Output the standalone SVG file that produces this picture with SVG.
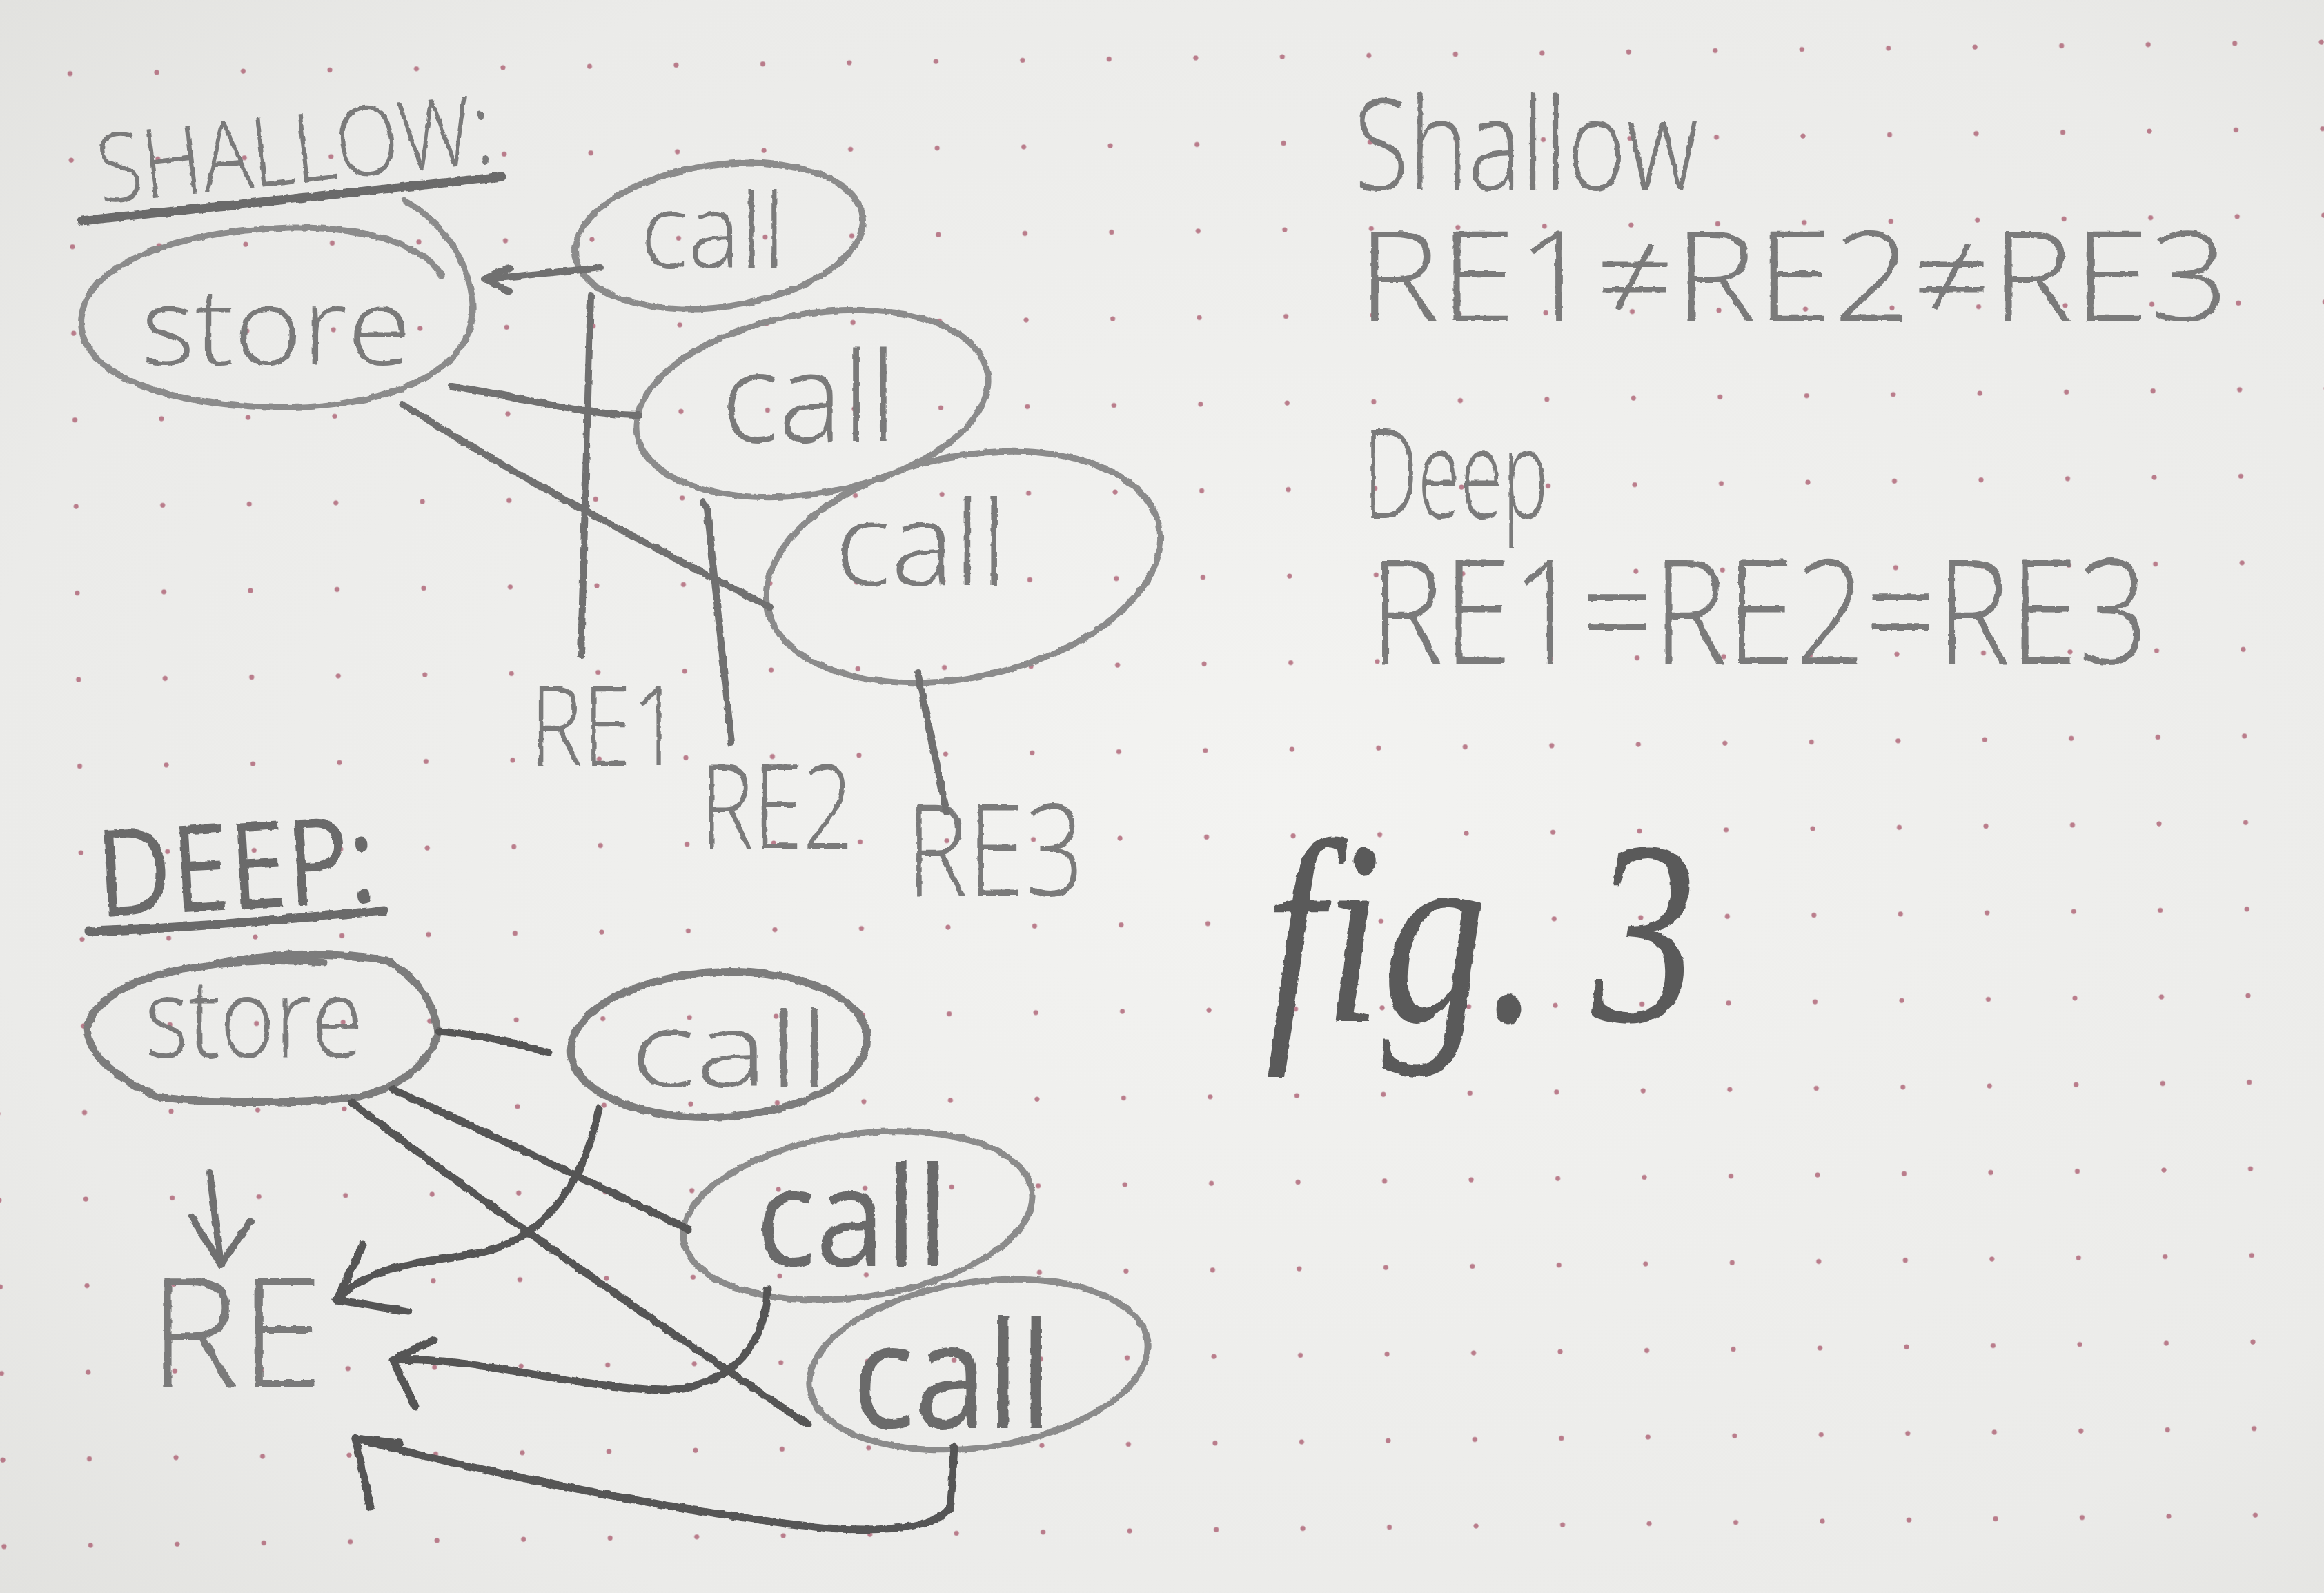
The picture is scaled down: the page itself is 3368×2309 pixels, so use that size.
<svg xmlns="http://www.w3.org/2000/svg" width="3368" height="2309" viewBox="0 0 3368 2309">
<defs>
  <radialGradient id="paper" cx="0.55" cy="0.5" r="0.8">
    <stop offset="0" stop-color="#f3f3f1"/>
    <stop offset="0.7" stop-color="#ebebe9"/>
    <stop offset="1" stop-color="#dfdfdc"/>
  </radialGradient>
  <pattern id="dots" x="96" y="104" width="125.5" height="125.5" patternUnits="userSpaceOnUse" patternTransform="rotate(-0.8)">
    <circle cx="4" cy="4" r="3.6" fill="#a8566a" fill-opacity="0.75"/>
  </pattern>
  <filter id="pencil" x="-5%" y="-5%" width="110%" height="110%">
    <feTurbulence type="fractalNoise" baseFrequency="0.08" numOctaves="2" seed="3" result="n"/>
    <feDisplacementMap in="SourceGraphic" in2="n" scale="5" xChannelSelector="R" yChannelSelector="G"/>
  </filter>
  <style>
    .oval{fill:none;stroke:#8b8b8b;stroke-width:9;stroke-linecap:round;stroke-linejoin:round}
    .ovald{fill:none;stroke:#7c7c7c;stroke-width:11;stroke-linecap:round;stroke-linejoin:round}
    .ln{fill:none;stroke:#707070;stroke-width:10;stroke-linecap:round;stroke-linejoin:round}
    .lnd{fill:none;stroke:#555;stroke-width:11;stroke-linecap:round;stroke-linejoin:round}
    .ul{fill:none;stroke:#6a6a6a;stroke-width:13;stroke-linecap:round}
    .hw{font-family:"Open Sans","Liberation Sans",sans-serif;font-weight:300;fill:#7a7a7a}
    .hwd{font-family:"Open Sans","Liberation Sans",sans-serif;font-weight:400;fill:#6a6a6a}
    .fig{font-family:"Liberation Serif",serif;font-style:italic;fill:#5a5a5a}
  </style>
</defs>

<rect width="3368" height="2309" fill="url(#paper)"/>
<rect width="3368" height="2309" fill="url(#dots)"/>

<g filter="url(#pencil)">
<!-- Titles -->
<g id="title-shallow">
  <text class="hw" x="140" y="265" font-size="140" textLength="575" lengthAdjust="spacingAndGlyphs" transform="rotate(-6 430 225)">SHALLOW:</text>
  <path class="ul" d="M118,320 C300,302 520,278 728,256"/>
</g>
<g id="title-deep">
  <text class="hwd" x="140" y="1318" font-size="175" textLength="405" lengthAdjust="spacingAndGlyphs" transform="rotate(-3 340 1260)">DEEP:</text>
  <path class="ul" d="M129,1350 C260,1346 420,1332 556,1320"/>
</g>

<!-- Shallow nodes -->
<g id="shallow-store">
  <path class="oval" d="M585,290 C660,330 700,420 680,480 C650,560 520,595 390,590 C230,585 110,540 118,460 C125,380 260,335 420,330 C540,328 620,360 640,400"/>
  <text class="hw" x="204" y="528" font-size="155" textLength="392" lengthAdjust="spacingAndGlyphs">store</text>
</g>
<g id="shallow-call1">
  <ellipse class="oval" cx="1042" cy="342" rx="210" ry="103" transform="rotate(-8 1042 342)"/>
  <text class="hw" x="928" y="388" font-size="150" textLength="210" lengthAdjust="spacingAndGlyphs">call</text>
</g>
<g id="shallow-call2">
  <ellipse class="oval" cx="1177" cy="585" rx="258" ry="130" transform="rotate(-10 1177 585)"/>
  <text class="hw" x="1045" y="640" font-size="180" textLength="255" lengthAdjust="spacingAndGlyphs">call</text>
</g>
<g id="shallow-call3">
  <ellipse class="oval" cx="1396" cy="822" rx="290" ry="160" transform="rotate(-12 1396 822)"/>
  <text class="hw" x="1210" y="848" font-size="170" textLength="250" lengthAdjust="spacingAndGlyphs">call</text>
</g>
<g id="shallow-re1"><text class="hw" x="768" y="1110" font-size="160" textLength="220" lengthAdjust="spacingAndGlyphs">RE1</text></g>
<g id="shallow-re2"><text class="hw" x="1015" y="1230" font-size="170" textLength="222" lengthAdjust="spacingAndGlyphs">RE2</text></g>
<g id="shallow-re3"><text class="hw" x="1313" y="1298" font-size="185" textLength="258" lengthAdjust="spacingAndGlyphs">RE3</text></g>

<!-- Deep nodes -->
<g id="deep-store">
  <path class="ovald" d="M300,1400 C380,1382 470,1378 560,1392 C610,1420 632,1460 634,1500 C620,1545 580,1575 520,1590 C430,1600 300,1600 230,1590 C170,1565 128,1530 126,1490 C140,1440 210,1410 300,1400 C360,1390 420,1392 470,1395"/>
  <text class="hw" x="210" y="1532" font-size="160" textLength="316" lengthAdjust="spacingAndGlyphs">store</text>
</g>
<g id="deep-call1">
  <ellipse class="ovald" cx="1042" cy="1514" rx="215" ry="105" transform="rotate(-3 1042 1514)"/>
  <text class="hw" x="913" y="1575" font-size="150" textLength="290" lengthAdjust="spacingAndGlyphs">call</text>
</g>
<g id="deep-call2">
  <ellipse class="oval" cx="1243" cy="1762" rx="255" ry="118" transform="rotate(-8 1243 1762)"/>
  <text class="hwd" x="1095" y="1835" font-size="200" textLength="280" lengthAdjust="spacingAndGlyphs">call</text>
</g>
<g id="deep-call3">
  <ellipse class="oval" cx="1418" cy="1978" rx="247" ry="120" transform="rotate(-8 1418 1978)"/>
  <text class="hwd" x="1235" y="2070" font-size="215" textLength="290" lengthAdjust="spacingAndGlyphs">call</text>
</g>
<g id="deep-re"><text class="hw" x="215" y="2010" font-size="220" textLength="255" lengthAdjust="spacingAndGlyphs">RE</text></g>

<!-- Right-hand notes -->
<g id="note-shallow">
  <text class="hw" x="1962" y="275" font-size="185" textLength="500" lengthAdjust="spacingAndGlyphs">Shallow</text>
  <text class="hw" x="1967" y="465" font-size="180" textLength="1263" lengthAdjust="spacingAndGlyphs">RE1≠RE2≠RE3</text>
</g>
<g id="note-deep">
  <text class="hw" x="1976" y="751" font-size="180" textLength="268" lengthAdjust="spacingAndGlyphs">Deep</text>
  <text class="hw" x="1985" y="962" font-size="210" textLength="1129" lengthAdjust="spacingAndGlyphs">RE1=RE2=RE3</text>
</g>
<g id="fig-label">
  <text class="fig" x="1834" y="1480" font-size="380" textLength="625" lengthAdjust="spacingAndGlyphs">fig. 3</text>
</g>

<!-- Connectors -->
<g id="connectors">
  <path class="ln" d="M870,388 L702,405"/>
  <path class="ln" d="M738,388 L702,405 L738,422"/>
  <path class="ln" d="M655,560 C760,575 830,600 925,602"/>
  <path class="ln" d="M582,585 C700,660 840,740 1116,880"/>
  <path class="ln" d="M856,428 L842,950"/>
  <path class="ln" d="M1018,728 L1025,738 L1060,1077"/>
  <path class="ln" d="M1330,975 L1372,1177"/>

  <path class="lnd" d="M635,1495 Q710,1500 795,1526"/>
  <path class="lnd" d="M569,1579 C700,1640 850,1710 998,1782"/>
  <path class="lnd" d="M510,1598 Q760,1790 1171,2065"/>
  <path class="ln" d="M304,1700 L320,1833"/>
  <path class="ln" d="M277,1763 L320,1833 L363,1770"/>
  <path class="lnd" d="M868,1606 C850,1700 800,1790 700,1815 C620,1830 540,1830 488,1884"/>
  <path class="lnd" d="M526,1804 L488,1884 L591,1901"/>
  <path class="lnd" d="M1112,1869 C1110,1940 1070,2010 960,2015 C820,2010 680,1965 569,1971"/>
  <path class="lnd" d="M629,1942 L569,1971 L602,2039"/>
  <path class="lnd" d="M1383,2097 L1378,2180 C1370,2210 1300,2222 1200,2215 C1000,2195 700,2135 515,2085"/>
  <path class="lnd" d="M580,2092 L515,2085 L537,2184"/>
</g>
</g>
</svg>
